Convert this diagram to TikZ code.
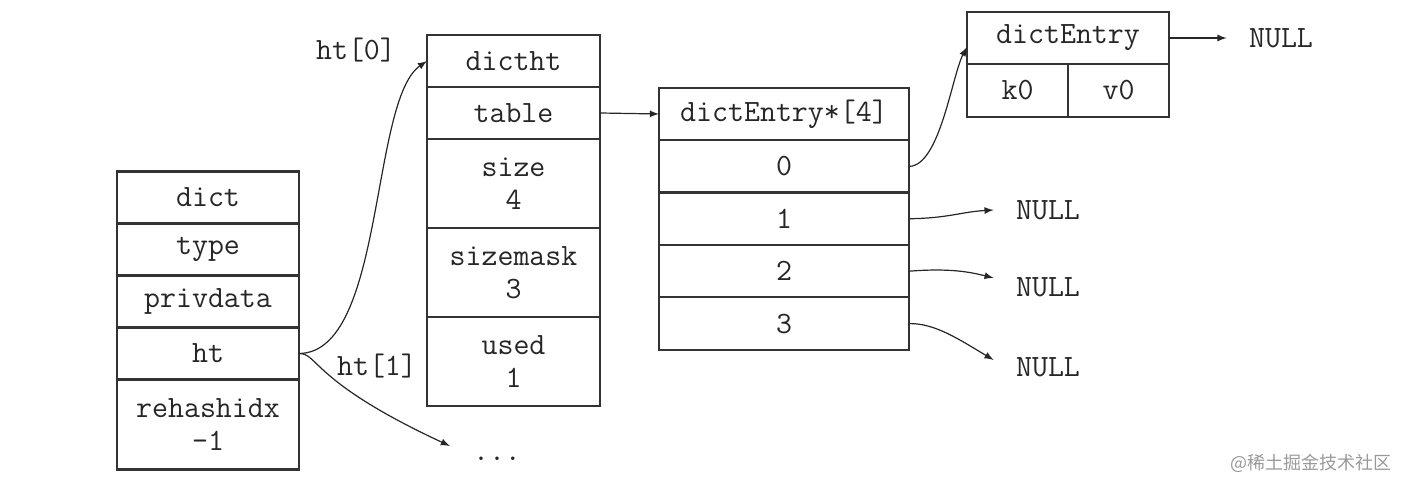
\documentclass[tikz,border=0pt]{standalone}
\usepackage{fontspec}
\newfontfamily\cjk{Noto Sans CJK SC}
\usetikzlibrary{positioning}
\tikzset{
    cell/.style={draw=black!80, line width=1.1pt, outer sep=0pt, inner sep=0pt,
        minimum height=26pt, align=center, text=black!85,
        font=\ttfamily\fontsize{15.5}{16.5}\selectfont},
    dictcell/.style={cell, minimum width=91pt},
    htcell/.style={cell, minimum width=86.5pt},
    slotcell/.style={cell, minimum width=125pt, minimum height=26.2pt},
    link/.style={-latex, line width=0.6pt, black!85},
    lbl/.style={text=black!85, font=\ttfamily\fontsize{15.5}{16.5}\selectfont},
    nullbox/.style={lbl, inner xsep=11pt, inner ysep=0pt},
}
\begin{document}
\begin{tikzpicture}[x=0.5pt, y=-0.5pt]
    \useasboundingbox (0,0) rectangle (1406,490);

    \node[dictcell] (dict) at (208,197.5) {dict};
    \node[dictcell, below=0pt of dict] (type) {type};
    \node[dictcell, below=0pt of type] (privdata) {privdata};
    \node[dictcell, below=0pt of privdata] (ht) {ht};
    \node[dictcell, minimum height=45pt, below=0pt of ht] (rehashidx) {rehashidx\\-1};

    \node[htcell] (dictht) at (513.5,61) {dictht};
    \node[htcell, below=0pt of dictht] (table) {table};
    \node[htcell, minimum height=44.5pt, below=0pt of table] (size) {size\\4};
    \node[htcell, minimum height=44.5pt, below=0pt of size] (sizemask) {sizemask\\3};
    \node[htcell, minimum height=44.5pt, below=0pt of sizemask] (used) {used\\1};

    \node[slotcell] (slots) at (784,114) {dictEntry*[4]};
    \node[slotcell, below=0pt of slots] (slot0) {0};
    \node[slotcell, below=0pt of slot0] (slot1) {1};
    \node[slotcell, below=0pt of slot1] (slot2) {2};
    \node[slotcell, below=0pt of slot2] (slot3) {3};

    \node[cell, minimum width=101pt] (entry) at (1068,38) {dictEntry};
    \node[cell, minimum width=50.5pt, minimum height=26.5pt, anchor=north west] (key) at (entry.south west) {k0};
    \node[cell, minimum width=50.5pt, minimum height=26.5pt, anchor=north east] (val) at (entry.south east) {v0};

    \node[nullbox] (null0) at (1281,38) {NULL};
    \node[nullbox] (null1) at (1048,210) {NULL};
    \node[nullbox] (null2) at (1048,287) {NULL};
    \node[nullbox] (null3) at (1048,367) {NULL};

    \node[lbl] (lab0) at (356,50) {ht[0]};
    \node[lbl] (lab1) at (377,366) {ht[1]};
    \node[lbl] (dots) at (497,459) {...};
    \coordinate (dotsend) at (450,446);

    \draw[link] (ht.east) .. controls (385,353) and (370,100) .. (dictht.west);
    \draw[link] (ht.east) .. controls (318,353) and (312,382) .. (dotsend);
    \draw[link] (table.east) -- (slots.west);
    \draw[link] (slot0.east) .. controls (940,166) and (952,75) .. ([yshift=-4.5pt]entry.west);
    \draw[link] (slot1.east) .. controls (950,218) and (960,212) .. (null1.west);
    \draw[link] (slot2.east) .. controls (950,268) and (970,272) .. ([yshift=4.5pt]null2.west);
    \draw[link] (slot3.east) .. controls (935,323) and (960,340) .. ([yshift=3.5pt]null3.west);
    \draw[link] (entry.east) -- (null0.west);

    \node[text=black!40, font=\cjk\fontsize{9}{9}\selectfont] (mark) at (1311,463) {@稀土掘金技术社区};
\end{tikzpicture}
\end{document}
